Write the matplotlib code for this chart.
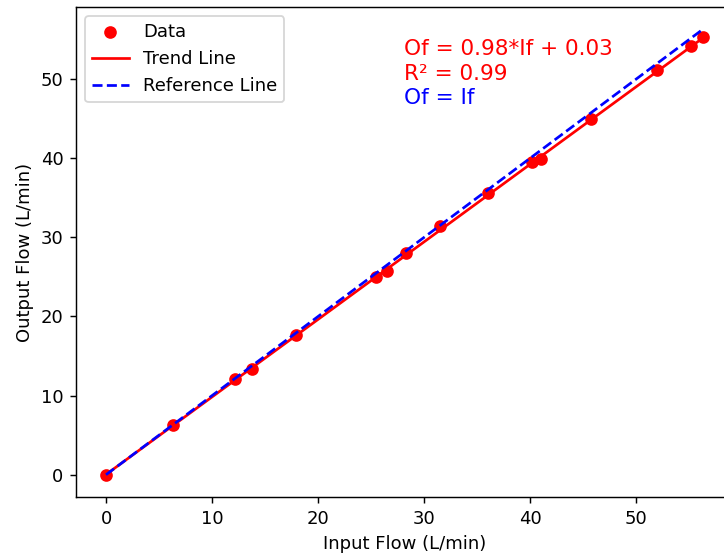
import numpy as np
import matplotlib
matplotlib.use("Agg")
import matplotlib.pyplot as plt

# Measured flows (L/min)
input_flow = [0.0, 6.36, 12.14, 13.79, 17.94, 25.50, 26.53, 28.26, 31.47,
              35.98, 40.13, 41.01, 45.75, 51.99, 55.15, 56.28]
output_flow = [0.0, 6.29, 12.03, 13.33, 17.59, 24.97, 25.73, 28.01, 31.39,
               35.53, 39.46, 39.84, 44.94, 51.14, 54.22, 55.35]

# Fit results as reported on the chart
slope = 0.98
intercept = 0.03
r_squared = 0.99

x = np.array(input_flow)
y = np.array(output_flow)
y_fit = slope * x + intercept

dpi = 130
fig = plt.figure(figsize=(724 / dpi, 555 / dpi), dpi=dpi)
ax = fig.add_axes([0.1052, 0.1045, 0.907, 0.883])

ax.scatter(x, y, color='red', label='Data')
ax.plot(x, y_fit, 'r-', label='Trend Line')
ax.plot([0, x.max()], [0, x.max()], 'b--', label='Reference Line')

ax.text(0.5, 0.934, f'Of = {slope:.2f}*If + {intercept:.2f}', transform=ax.transAxes,
        fontsize=12, color='red', va='top')
ax.text(0.5, 0.884, f'R\u00b2 = {r_squared:.2f}', transform=ax.transAxes,
        fontsize=12, color='red', va='top')
ax.text(0.5, 0.834, 'Of = If', transform=ax.transAxes,
        fontsize=12, color='blue', va='top')

ax.set_xlabel('Input Flow (L/min)')
ax.set_ylabel('Output Flow (L/min)')
ax.legend(loc='upper left')

fig.savefig('out.png', dpi=dpi)
